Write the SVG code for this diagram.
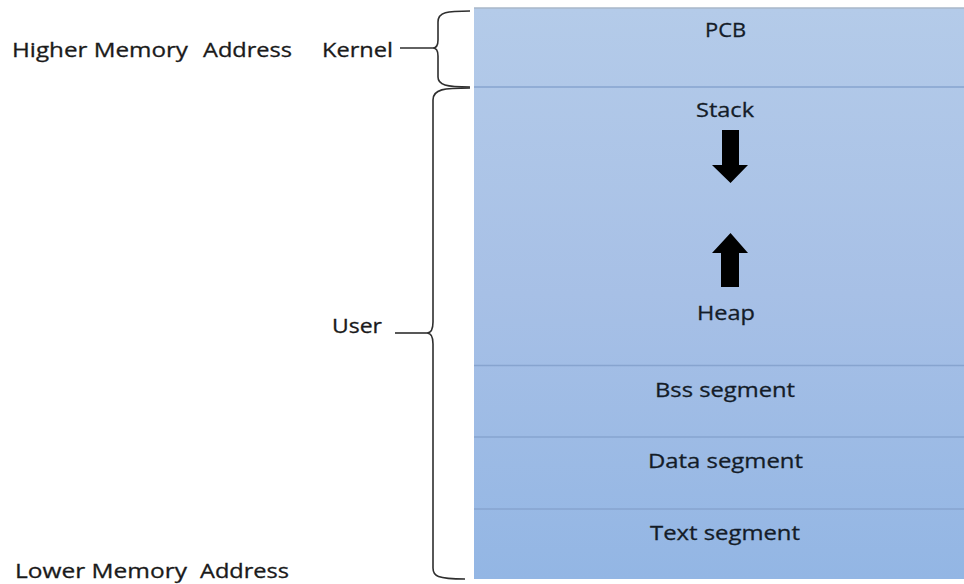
<svg xmlns="http://www.w3.org/2000/svg" width="964" height="584" viewBox="0 0 964 584">
  <defs>
    <linearGradient id="mem" x1="0" y1="0" x2="0" y2="1">
      <stop offset="0" stop-color="#b4cbe9"/>
      <stop offset="0.5" stop-color="#a7c0e6"/>
      <stop offset="1" stop-color="#93b6e4"/>
    </linearGradient>
  </defs>
  <style>
    .lbl { font-family: "Open Sans", "Liberation Sans", sans-serif; font-size: 20px; fill: #1a1a1a; stroke: #1a1a1a; stroke-width: 0.3; }
    .seg { font-family: "Open Sans", "Liberation Sans", sans-serif; font-size: 20px; fill: #141c28; stroke: #141c28; stroke-width: 0.3; }
    .div { stroke: #87a4cf; stroke-width: 1.6; fill: none; }
    .brace { stroke: #2e2e2e; stroke-width: 1.6; fill: none; }
    .arrow { fill: #000000; }
  </style>
  <rect width="964" height="584" fill="#ffffff"/>

  <g id="memory">
    <rect x="474" y="8" width="492" height="571" fill="url(#mem)"/>
    <line x1="474" y1="8" x2="964" y2="8" stroke="#a8b7c9" stroke-width="1.5"/>
  </g>

  <g id="pcb">
    <text class="seg" x="705" y="37" textLength="41" lengthAdjust="spacingAndGlyphs">PCB</text>
  </g>
  <g id="stack-heap">
    <line class="div" x1="474" y1="87" x2="964" y2="87"/>
    <text class="seg" x="696" y="117" textLength="58" lengthAdjust="spacingAndGlyphs">Stack</text>
    <polygon class="arrow" points="722,130 739,130 739,165 748,165 730.5,183 712,165 722,165"/>
    <polygon class="arrow" points="730.5,233 748,253 739,253 739,287 721,287 721,253 712,253"/>
    <text class="seg" x="697" y="320" textLength="58" lengthAdjust="spacingAndGlyphs">Heap</text>
  </g>
  <g id="bss">
    <line class="div" x1="474" y1="365.5" x2="964" y2="365.5"/>
    <text class="seg" x="655" y="397" textLength="140" lengthAdjust="spacingAndGlyphs">Bss segment</text>
  </g>
  <g id="data">
    <line class="div" x1="474" y1="437" x2="964" y2="437"/>
    <text class="seg" x="648" y="468" textLength="155" lengthAdjust="spacingAndGlyphs">Data segment</text>
  </g>
  <g id="text-seg">
    <line class="div" x1="474" y1="509" x2="964" y2="509"/>
    <text class="seg" x="650" y="540" textLength="150" lengthAdjust="spacingAndGlyphs">Text segment</text>
  </g>

  <g id="higher-label">
    <text class="lbl" y="57"><tspan x="12" textLength="176" lengthAdjust="spacingAndGlyphs">Higher Memory</tspan><tspan x="203" textLength="89" lengthAdjust="spacingAndGlyphs">Address</tspan></text>
  </g>
  <g id="kernel-label">
    <text class="lbl" x="322" y="57" textLength="71" lengthAdjust="spacingAndGlyphs">Kernel</text>
  </g>
  <g id="user-label">
    <text class="lbl" x="332" y="333" textLength="50" lengthAdjust="spacingAndGlyphs">User</text>
  </g>
  <g id="lower-label">
    <text class="lbl" y="578"><tspan x="15" textLength="172" lengthAdjust="spacingAndGlyphs">Lower Memory</tspan><tspan x="200" textLength="89" lengthAdjust="spacingAndGlyphs">Address</tspan></text>
  </g>

  <g id="connectors">
    <path class="brace" d="M470,11 C447,11 438,12 438,22 V40 C438,45 437,48 433,48 C437,48 438,51 438,56 V77 C438,85 446,87 470,87"/>
    <line class="brace" x1="400" y1="48" x2="433" y2="48"/>
    <path class="brace" d="M470,88 C444,88 433,89 433,100 V322 C433,330 431,333 427,333 C431,333 433,336 433,344 V568 C433,576 437,579 465,579"/>
    <line class="brace" x1="395" y1="333" x2="427" y2="333"/>
  </g>
</svg>
